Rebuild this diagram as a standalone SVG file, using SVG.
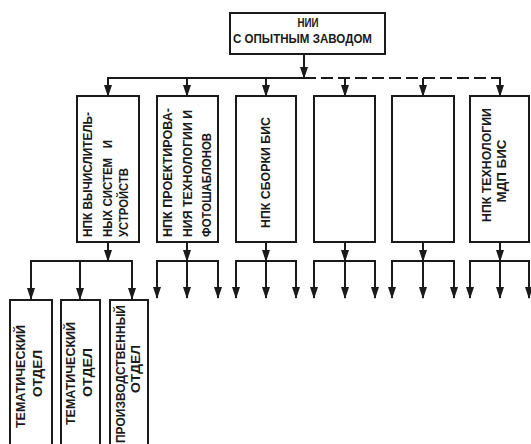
<svg xmlns="http://www.w3.org/2000/svg" width="531" height="444" viewBox="0 0 531 444">
<style>
.box{fill:none;stroke:#1a1a1a;stroke-width:2}
.ln{fill:none;stroke:#1a1a1a;stroke-width:2}
.dash{stroke-dasharray:12 5}
text{font-family:"Liberation Sans",Arial,sans-serif;font-weight:bold;font-size:12px;fill:#1a1a1a}
</style>
<defs>
<marker id="ahv" markerUnits="userSpaceOnUse" markerWidth="12" markerHeight="8" viewBox="0 0 12 8" refX="11" refY="4" orient="auto">
<path d="M0,0 L12,4 L0,8 Z" fill="#1a1a1a"/>
</marker>
</defs>
<rect width="531" height="444" fill="#ffffff"/>

<g id="connectors">
<line class="ln" x1="304" y1="54" x2="304" y2="78" marker-end="url(#ahv)"/>
<line class="ln" x1="107" y1="78" x2="304" y2="78"/>
<line class="ln dash" x1="304" y1="78" x2="501" y2="78"/>
<line class="ln" x1="108" y1="77" x2="108" y2="96" marker-end="url(#ahv)"/>
<line class="ln" x1="187" y1="78" x2="187" y2="96" marker-end="url(#ahv)"/>
<line class="ln" x1="266" y1="78" x2="266" y2="96" marker-end="url(#ahv)"/>
<line class="ln" x1="345" y1="78" x2="345" y2="96" marker-end="url(#ahv)"/>
<line class="ln" x1="423" y1="78" x2="423" y2="96" marker-end="url(#ahv)"/>
<line class="ln" x1="500" y1="77" x2="500" y2="96" marker-end="url(#ahv)"/>

<line class="ln" x1="108" y1="242" x2="108" y2="261" marker-end="url(#ahv)"/>
<polyline class="ln" points="31,299 31,261 132,261 132,299"/>
<line class="ln" x1="31" y1="270" x2="31" y2="299" marker-end="url(#ahv)"/>
<line class="ln" x1="80" y1="261" x2="80" y2="299" marker-end="url(#ahv)"/>
<line class="ln" x1="132" y1="270" x2="132" y2="299" marker-end="url(#ahv)"/>

<line class="ln" x1="187" y1="242" x2="187" y2="261" marker-end="url(#ahv)"/>
<polyline class="ln" points="157,280 157,261 218,261 218,280"/>
<line class="ln" x1="157" y1="270" x2="157" y2="298" marker-end="url(#ahv)"/>
<line class="ln" x1="187" y1="261" x2="187" y2="298" marker-end="url(#ahv)"/>
<line class="ln" x1="218" y1="270" x2="218" y2="298" marker-end="url(#ahv)"/>

<line class="ln" x1="266" y1="242" x2="266" y2="261" marker-end="url(#ahv)"/>
<polyline class="ln" points="236,280 236,261 296,261 296,280"/>
<line class="ln" x1="236" y1="270" x2="236" y2="298" marker-end="url(#ahv)"/>
<line class="ln" x1="266" y1="261" x2="266" y2="298" marker-end="url(#ahv)"/>
<line class="ln" x1="296" y1="270" x2="296" y2="298" marker-end="url(#ahv)"/>

<line class="ln" x1="345" y1="242" x2="345" y2="261" marker-end="url(#ahv)"/>
<polyline class="ln" points="314,280 314,261 375,261 375,280"/>
<line class="ln" x1="314" y1="270" x2="314" y2="298" marker-end="url(#ahv)"/>
<line class="ln" x1="345" y1="261" x2="345" y2="298" marker-end="url(#ahv)"/>
<line class="ln" x1="375" y1="270" x2="375" y2="298" marker-end="url(#ahv)"/>

<line class="ln" x1="423" y1="242" x2="423" y2="261" marker-end="url(#ahv)"/>
<polyline class="ln" points="392,280 392,261 454,261 454,280"/>
<line class="ln" x1="392" y1="270" x2="392" y2="298" marker-end="url(#ahv)"/>
<line class="ln" x1="423" y1="261" x2="423" y2="298" marker-end="url(#ahv)"/>
<line class="ln" x1="454" y1="270" x2="454" y2="298" marker-end="url(#ahv)"/>

<line class="ln" x1="500" y1="242" x2="500" y2="261" marker-end="url(#ahv)"/>
<polyline class="ln" points="470,280 470,261 529,261 529,280"/>
<line class="ln" x1="470" y1="270" x2="470" y2="298" marker-end="url(#ahv)"/>
<line class="ln" x1="500" y1="261" x2="500" y2="298" marker-end="url(#ahv)"/>
<line class="ln" x1="529" y1="270" x2="529" y2="298" marker-end="url(#ahv)"/>
</g>

<g id="nii">
<rect class="box" x="230" y="13" width="155" height="41"/>
<text x="308" y="27" text-anchor="middle" textLength="21" lengthAdjust="spacingAndGlyphs">НИИ</text>
<text x="233" y="43" textLength="139" lengthAdjust="spacingAndGlyphs">С ОПЫТНЫМ ЗАВОДОМ</text>
</g>

<g id="npk1">
<rect class="box" x="77" y="96" width="62" height="146"/>
<text transform="translate(92,237) rotate(-90)" textLength="125" lengthAdjust="spacingAndGlyphs">НПК ВЫЧИСЛИТЕЛЬ-</text>
<text transform="translate(112,237) rotate(-90)" textLength="97" lengthAdjust="spacingAndGlyphs" xml:space="preserve">НЫХ СИСТЕМ   И</text>
<text transform="translate(128,237) rotate(-90)" textLength="69" lengthAdjust="spacingAndGlyphs">УСТРОЙСТВ</text>
</g>

<g id="npk2">
<rect class="box" x="157" y="96" width="61" height="146"/>
<text transform="translate(172,237) rotate(-90)" textLength="129" lengthAdjust="spacingAndGlyphs">НПК ПРОЕКТИРОВА-</text>
<text transform="translate(192,237) rotate(-90)" textLength="127" lengthAdjust="spacingAndGlyphs">НИЯ ТЕХНОЛОГИИ И</text>
<text transform="translate(211,237) rotate(-90)" textLength="104" lengthAdjust="spacingAndGlyphs">ФОТОШАБЛОНОВ</text>
</g>

<g id="npk3">
<rect class="box" x="236" y="96" width="60" height="146"/>
<text transform="translate(270,228) rotate(-90)" textLength="111" lengthAdjust="spacingAndGlyphs">НПК СБОРКИ БИС</text>
</g>

<g id="npk4">
<rect class="box" x="314" y="96" width="61" height="146"/>
</g>

<g id="npk5">
<rect class="box" x="392" y="96" width="62" height="146"/>
</g>

<g id="npk6">
<rect class="box" x="470" y="96" width="59" height="146"/>
<text transform="translate(491,165) rotate(-90)" text-anchor="middle" textLength="114" lengthAdjust="spacingAndGlyphs">НПК ТЕХНОЛОГИИ</text>
<text transform="translate(506,171) rotate(-90)" text-anchor="middle" textLength="63" lengthAdjust="spacingAndGlyphs">МДП БИС</text>
</g>

<g id="otdel1">
<rect class="box" x="10" y="300" width="42" height="160"/>
<text transform="translate(25,428) rotate(-90)" textLength="103" lengthAdjust="spacingAndGlyphs">ТЕМАТИЧЕСКИЙ</text>
<text transform="translate(42,397) rotate(-90)" textLength="47" lengthAdjust="spacingAndGlyphs">ОТДЕЛ</text>
</g>

<g id="otdel2">
<rect class="box" x="61" y="300" width="39" height="160"/>
<text transform="translate(75,425) rotate(-90)" textLength="103" lengthAdjust="spacingAndGlyphs">ТЕМАТИЧЕСКИЙ</text>
<text transform="translate(92,397) rotate(-90)" textLength="49" lengthAdjust="spacingAndGlyphs">ОТДЕЛ</text>
</g>

<g id="otdel3">
<rect class="box" x="110" y="300" width="38" height="160"/>
<text transform="translate(125,443) rotate(-90)" textLength="138" lengthAdjust="spacingAndGlyphs">ПРОИЗВОДСТВЕННЫЙ</text>
<text transform="translate(140,393) rotate(-90)" textLength="48" lengthAdjust="spacingAndGlyphs">ОТДЕЛ</text>
</g>
</svg>
